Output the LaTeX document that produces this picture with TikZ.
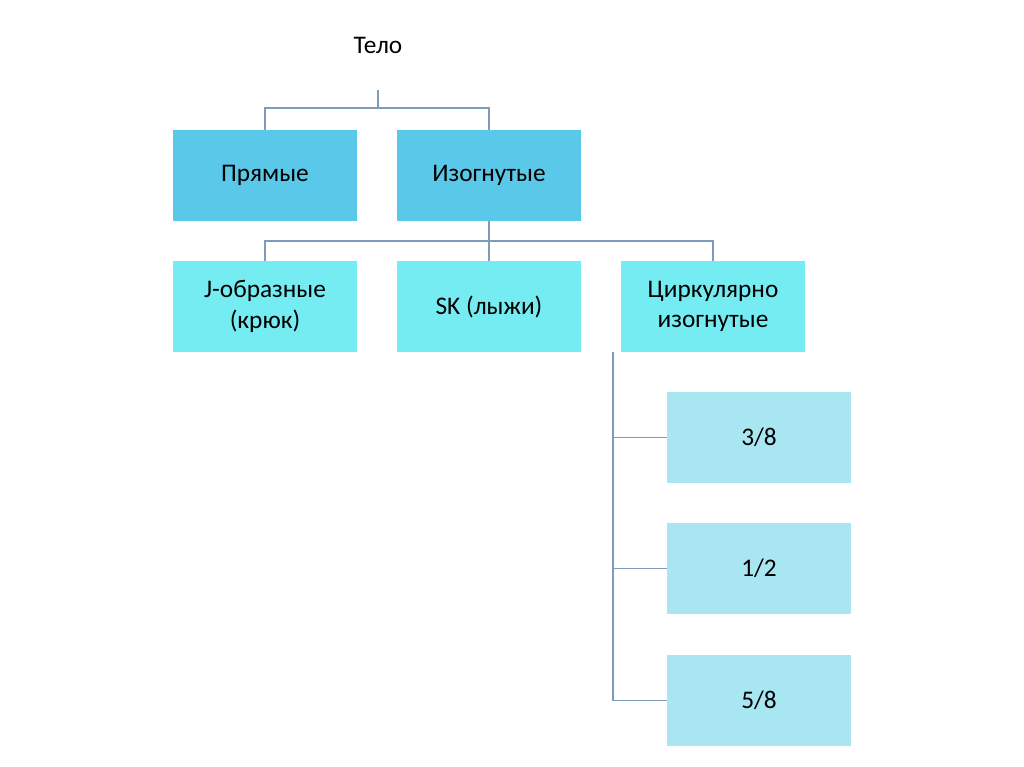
\documentclass[tikz,border=0pt]{standalone}
\usepackage{fontspec}
\setmainfont{Carlito}
\definecolor{lvA}{HTML}{5AC8E8}
\definecolor{lvB}{HTML}{74ECF2}
\definecolor{lvC}{HTML}{A8E6F2}
\definecolor{conn}{HTML}{7F9BBA}
\begin{document}
\begin{tikzpicture}[x=0.75pt,y=-0.75pt,
  box/.style={minimum width=138pt,minimum height=68pt,inner sep=0pt,align=center,font=\fontsize{19}{23}\selectfont},
  lnk/.style={draw=conn,line width=1pt}]
\useasboundingbox (0,0) rectangle (1024,767);
\node[font=\fontsize{19}{23}\selectfont] (telo) at (378,45) {Тело};
\coordinate (tb) at (378,90);
\node[box,fill=lvA] (pr) at (265,175.5) {Прямые};
\node[box,fill=lvA] (iz) at (489,175.5) {Изогнутые};
\node[box,fill=lvB] (j) at (265,306.5) {J-образные\\(крюк)};
\node[box,fill=lvB] (sk) at (489,306.5) {SK (лыжи)};
\node[box,fill=lvB] (ci) at (713,306.5) {Циркулярно\\изогнутые};
\node[box,fill=lvC] (a) at (759,437.5) {3/8};
\node[box,fill=lvC] (b) at (759,568.5) {1/2};
\node[box,fill=lvC] (c) at (759,700.5) {5/8};
\draw[lnk] (tb) -- ++(0,18) -| (pr.north);
\draw[lnk] (tb) -- ++(0,18) -| (iz.north);
\draw[lnk] (iz.south) -- ++(0,20) -| (j.north);
\draw[lnk] (iz.south) -- (sk.north);
\draw[lnk] (iz.south) -- ++(0,20) -| (ci.north);
\draw[lnk] ([xshift=-75]ci.south) |- (a.west);
\draw[lnk] ([xshift=-75]ci.south) |- (b.west);
\draw[lnk] ([xshift=-75]ci.south) |- (c.west);
\end{tikzpicture}
\end{document}
